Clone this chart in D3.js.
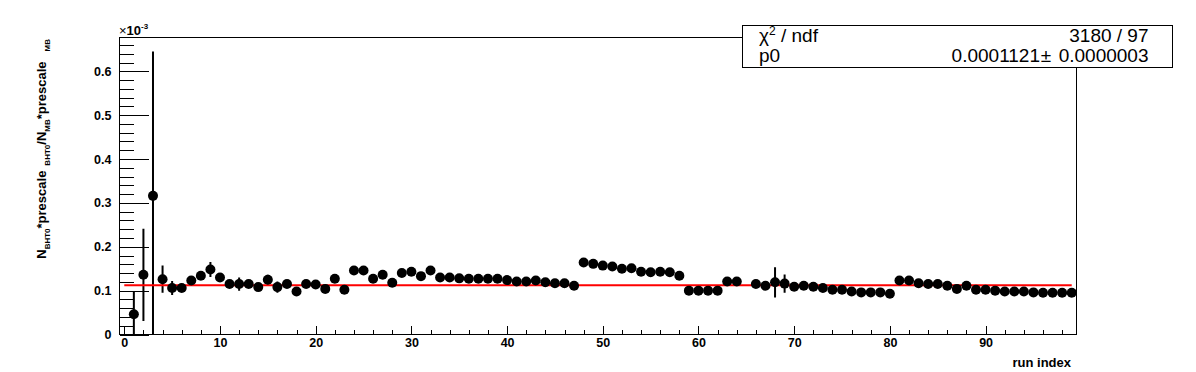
<!DOCTYPE html>
<html><head><meta charset="utf-8">
<script src="https://cdn.jsdelivr.net/npm/d3@7"></script>
<style>body{margin:0;background:#fff} svg{display:block}</style>
</head><body><svg id="c" width="1196" height="372"></svg>
<script>
// values in units of 10^-3
const runIndex = [1,2,3,4,5,6,7,8,9,10,11,12,13,14,15,16,17,18,19,20,21,22,23,24,25,26,27,28,29,30,31,32,33,34,35,36,37,38,39,40,41,42,43,44,45,46,47,48,49,50,51,52,53,54,55,56,57,58,59,60,61,62,63,64,66,67,68,69,70,71,72,73,74,75,76,77,78,79,80,81,82,83,84,85,86,87,88,89,90,91,92,93,94,95,96,97,98,99];
const ratio = [0.046,0.136,0.316,0.126,0.106,0.106,0.123,0.134,0.148,0.130,0.115,0.115,0.115,0.108,0.125,0.108,0.115,0.098,0.115,0.114,0.104,0.127,0.102,0.146,0.146,0.127,0.136,0.118,0.140,0.143,0.133,0.146,0.130,0.130,0.128,0.127,0.127,0.127,0.127,0.124,0.121,0.121,0.123,0.119,0.117,0.117,0.111,0.164,0.161,0.157,0.155,0.150,0.151,0.143,0.142,0.143,0.142,0.134,0.100,0.100,0.100,0.100,0.121,0.121,0.115,0.111,0.119,0.116,0.109,0.111,0.109,0.106,0.102,0.102,0.098,0.096,0.096,0.096,0.093,0.123,0.123,0.117,0.115,0.115,0.111,0.104,0.111,0.102,0.102,0.100,0.098,0.098,0.098,0.096,0.095,0.095,0.095,0.095];
const ratioErr = [0.053,0.105,0.329,0.031,0.016,0.008,0.009,0.010,0.017,0.010,0.008,0.015,0.008,0.008,0.011,0.013,0.008,0.007,0.007,0.007,0.007,0.007,0.007,0.006,0.006,0.006,0.006,0.006,0.006,0.006,0.006,0.006,0.005,0.005,0.005,0.005,0.005,0.005,0.005,0.005,0.005,0.005,0.005,0.005,0.005,0.005,0.005,0.004,0.004,0.004,0.004,0.004,0.004,0.004,0.004,0.004,0.004,0.004,0.004,0.004,0.004,0.004,0.006,0.006,0.006,0.006,0.0345,0.021,0.004,0.004,0.004,0.004,0.004,0.004,0.004,0.004,0.004,0.004,0.004,0.004,0.004,0.004,0.004,0.004,0.004,0.004,0.004,0.004,0.004,0.004,0.004,0.004,0.004,0.004,0.004,0.004,0.004,0.004];
const fitP0 = 0.1121;
const fitRange = [0, 99];
const xTickValues = [0,10,20,30,40,50,60,70,80,90];
const yTickValues = [0,0.1,0.2,0.3,0.4,0.5,0.6];
const yTickLabels = ["0","0.1","0.2","0.3","0.4","0.5","0.6"];
const statNames = ["ndf", "p0"];
const chi2Value = "3180 / 97";
const p0Value = "0.0001121";
const p0Error = "0.0000003";

const W = 1196, H = 372;
const L = 119.5, R = 1076.5, T = 37.5, B = 334.5;
const svg = d3.select("#c");
svg.append("rect").attr("width", W).attr("height", H).attr("fill", "#fff");

const x = d3.scaleLinear().domain([-0.5, 99.5]).range([L, R]);
const y = d3.scaleLinear().domain([0, 0.677]).range([B, T]);
const FONT = "'Liberation Sans', Arial, Helvetica, sans-serif";

svg.append("clipPath").attr("id", "clip").append("rect")
  .attr("x", L).attr("y", T).attr("width", R - L).attr("height", B - T);

const yMajor = svg.append("g").attr("transform", `translate(${L},0)`)
  .call(d3.axisLeft(y).tickValues(yTickValues).tickFormat((d, i) => yTickLabels[i]).tickSize(-29.5).tickPadding(8));
const yMinorVals = d3.range(0, 0.671, 0.02).filter(v => Math.abs(v * 10 - Math.round(v * 10)) > 1e-6);
const yMinor = svg.append("g").attr("transform", `translate(${L},0)`)
  .call(d3.axisLeft(y).tickValues(yMinorVals).tickFormat("").tickSize(-14.5));
const xMajor = svg.append("g").attr("transform", `translate(0,${B})`)
  .call(d3.axisBottom(x).tickValues(xTickValues).tickSize(-9).tickPadding(4));
const xMinorVals = d3.range(0, 99.5, 2).filter(v => v % 10 !== 0);
const xMinor = svg.append("g").attr("transform", `translate(0,${B})`)
  .call(d3.axisBottom(x).tickValues(xMinorVals).tickFormat("").tickSize(-4.5));

[yMajor, yMinor, xMajor, xMinor].forEach(g => {
  g.select(".domain").remove();
  g.selectAll("line").attr("stroke", "#000").attr("stroke-width", 1).attr("shape-rendering", "crispEdges");
  g.selectAll("text").attr("font-family", FONT).attr("font-weight", "bold").attr("font-size", 12.5).attr("fill", "#000");
});

svg.append("rect").attr("x", L).attr("y", T).attr("width", R - L).attr("height", B - T)
  .attr("fill", "none").attr("stroke", "#000").attr("stroke-width", 1).attr("shape-rendering", "crispEdges");

const pts = runIndex.map((r, i) => ({ r, v: ratio[i], e: ratioErr[i] }));
const plot = svg.append("g").attr("clip-path", "url(#clip)");

plot.selectAll("line.err").data(pts).join("line").attr("class", "err")
  .attr("x1", d => x(d.r)).attr("x2", d => x(d.r))
  .attr("y1", d => y(d.v - d.e)).attr("y2", d => y(d.v + d.e))
  .attr("stroke", "#000").attr("stroke-width", 2);

plot.append("line")
  .attr("x1", x(fitRange[0])).attr("x2", x(fitRange[1]))
  .attr("y1", y(fitP0)).attr("y2", y(fitP0))
  .attr("stroke", "#ff0000").attr("stroke-width", 2);

plot.selectAll("circle").data(pts).join("circle")
  .attr("cx", d => x(d.r)).attr("cy", d => y(d.v)).attr("r", 5).attr("fill", "#000");

const mult = svg.append("text").attr("x", 119).attr("y", 35)
  .attr("font-family", FONT).attr("font-size", 13).attr("fill", "#000");
mult.append("tspan").text("\u00d7");
mult.append("tspan").attr("font-weight", "bold").text("10");
mult.append("tspan").attr("font-size", 8).attr("font-weight", "bold").attr("dy", -6).text("-3");

const yt = svg.append("text").attr("transform", "translate(45.5,39) rotate(-90)")
  .attr("text-anchor", "end").attr("font-family", FONT).attr("font-weight", "bold")
  .attr("font-size", 13).attr("fill", "#000");
const parts = [["N", 0, 0], ["BHT0", 1, 0], ["*prescale", 0, 0], ["BHT0", 1, 5], ["/N", 0, 0], ["MB", 1, 0], ["*prescale", 0, 0], ["MB", 1, 10]];
let cur = 0;
parts.forEach(([t, sub, gap]) => {
  const target = sub ? 4 : 0;
  const ts = yt.append("tspan").text(t).attr("dy", target - cur);
  if (gap) ts.attr("dx", gap);
  if (sub) ts.attr("font-size", 8);
  cur = target;
});

svg.append("text").attr("x", 1071).attr("y", 367).attr("text-anchor", "end")
  .attr("font-family", FONT).attr("font-weight", "bold").attr("font-size", 13)
  .attr("fill", "#000").text("run index");

svg.append("rect").attr("x", 742.5).attr("y", 25.5).attr("width", 430).attr("height", 42)
  .attr("fill", "#fff").attr("stroke", "#000").attr("stroke-width", 1).attr("shape-rendering", "crispEdges");
const st = (xx, yy, anchor) => svg.append("text").attr("x", xx).attr("y", yy).attr("text-anchor", anchor)
  .attr("font-family", FONT).attr("font-size", 19).attr("fill", "#000");
const c2 = st(759, 42, "start");
c2.append("tspan").text("\u03c7");
c2.append("tspan").attr("font-size", 12).attr("dy", -7).text("2");
c2.append("tspan").attr("dy", 7).text(" / " + statNames[0]);
st(1148.5, 42, "end").text(chi2Value);
st(759, 61.5, "start").text(statNames[1]);
st(1040, 61.5, "end").text(p0Value);
st(1046, 61.5, "middle").text("\u00b1");
st(1148.5, 61.5, "end").text(p0Error);
</script>
</body></html>
